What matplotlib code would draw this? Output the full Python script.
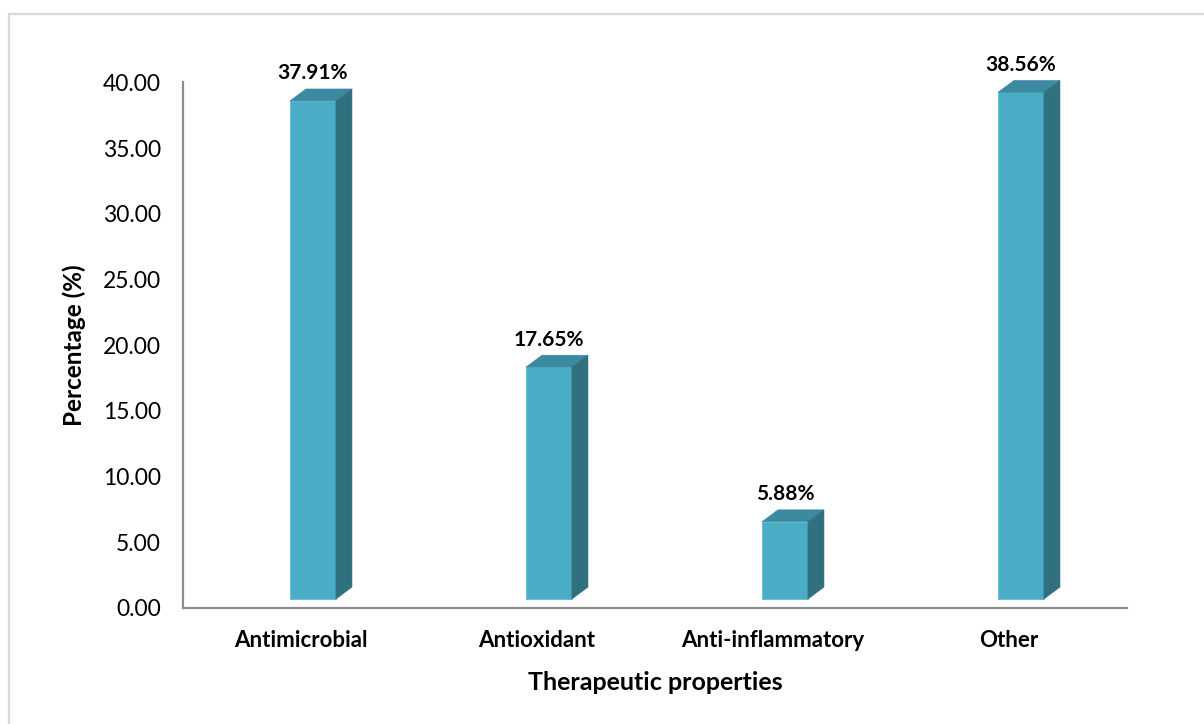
import matplotlib
matplotlib.use("Agg")
import matplotlib.pyplot as plt
from matplotlib.patches import Polygon, Rectangle

categories = ["Antimicrobial", "Antioxidant", "Anti-inflammatory", "Other"]
percentages = [37.91, 17.65, 5.88, 38.56]
value_labels = ["37.91%", "17.65%", "5.88%", "38.56%"]
y_ticks = [0, 5, 10, 15, 20, 25, 30, 35, 40]

plt.rcParams["font.family"] = ["Lato", "DejaVu Sans"]

FRONT = "#4bacc6"
TOP = "#3b8aa1"
SIDE = "#31707f"

fig = plt.figure(figsize=(12.04, 7.24), dpi=100)
ax = fig.add_axes([183 / 1204, 1 - 608 / 724, (1127 - 183) / 1204, (608 - 82.4) / 724])

# outer chart frame
fig.patches.append(Rectangle((8.5 / 1204, -0.1), 1.2, 1 - 14 / 724 + 0.1,
                             transform=fig.transFigure, fill=False,
                             edgecolor="#d9d9d9", linewidth=1.6, zorder=0))

ax.set_xlim(-0.5, len(categories) - 0.5)
ax.set_ylim(0, 40)

# pseudo-3D column geometry (data units)
left_off, right_off = -0.047, 0.148
dx, dy = 0.068, 0.91
base = 0.68

for i, v in enumerate(percentages):
    x0, x1 = i + left_off, i + right_off
    y0, y1 = base, base + v
    front = Polygon([(x0, y0), (x1, y0), (x1, y1), (x0, y1)], closed=True,
                    facecolor=FRONT, edgecolor="#5cbcd4", linewidth=0.6, zorder=3)
    top = Polygon([(x0, y1), (x1, y1), (x1 + dx, y1 + dy), (x0 + dx, y1 + dy)], closed=True,
                  facecolor=TOP, edgecolor=TOP, linewidth=0.4, zorder=3)
    side = Polygon([(x1, y0), (x1 + dx, y0 + dy), (x1 + dx, y1 + dy), (x1, y1)], closed=True,
                   facecolor=SIDE, edgecolor=SIDE, linewidth=0.4, zorder=3)
    for p in (front, top, side):
        p.set_clip_on(False)
        ax.add_patch(p)
    ax.annotate(value_labels[i], xy=((x0 + x1) / 2, y1 + dy), xytext=(0, 4),
                textcoords="offset points", ha="center", va="bottom",
                fontsize=15, fontweight="bold", color="black",
                annotation_clip=False)

ax.set_yticks(y_ticks)
ax.set_yticklabels([f"{t:.2f}" for t in y_ticks])
ax.set_xticks(range(len(categories)))
ax.set_xticklabels(categories, fontweight="bold")
ax.tick_params(axis="y", length=0, pad=16, labelsize=16.5)
ax.tick_params(axis="x", length=0, pad=16, labelsize=16)

for s in ("top", "right"):
    ax.spines[s].set_visible(False)
for s in ("left", "bottom"):
    ax.spines[s].set_color("#8c8c8c")
    ax.spines[s].set_linewidth(1.6)

ax.set_xlabel("Therapeutic properties", fontsize=18, fontweight="bold", labelpad=14)
ax.set_ylabel("Percentage (%)", fontsize=17.5, fontweight="bold", labelpad=12)

fig.savefig("out.png", dpi=100)
